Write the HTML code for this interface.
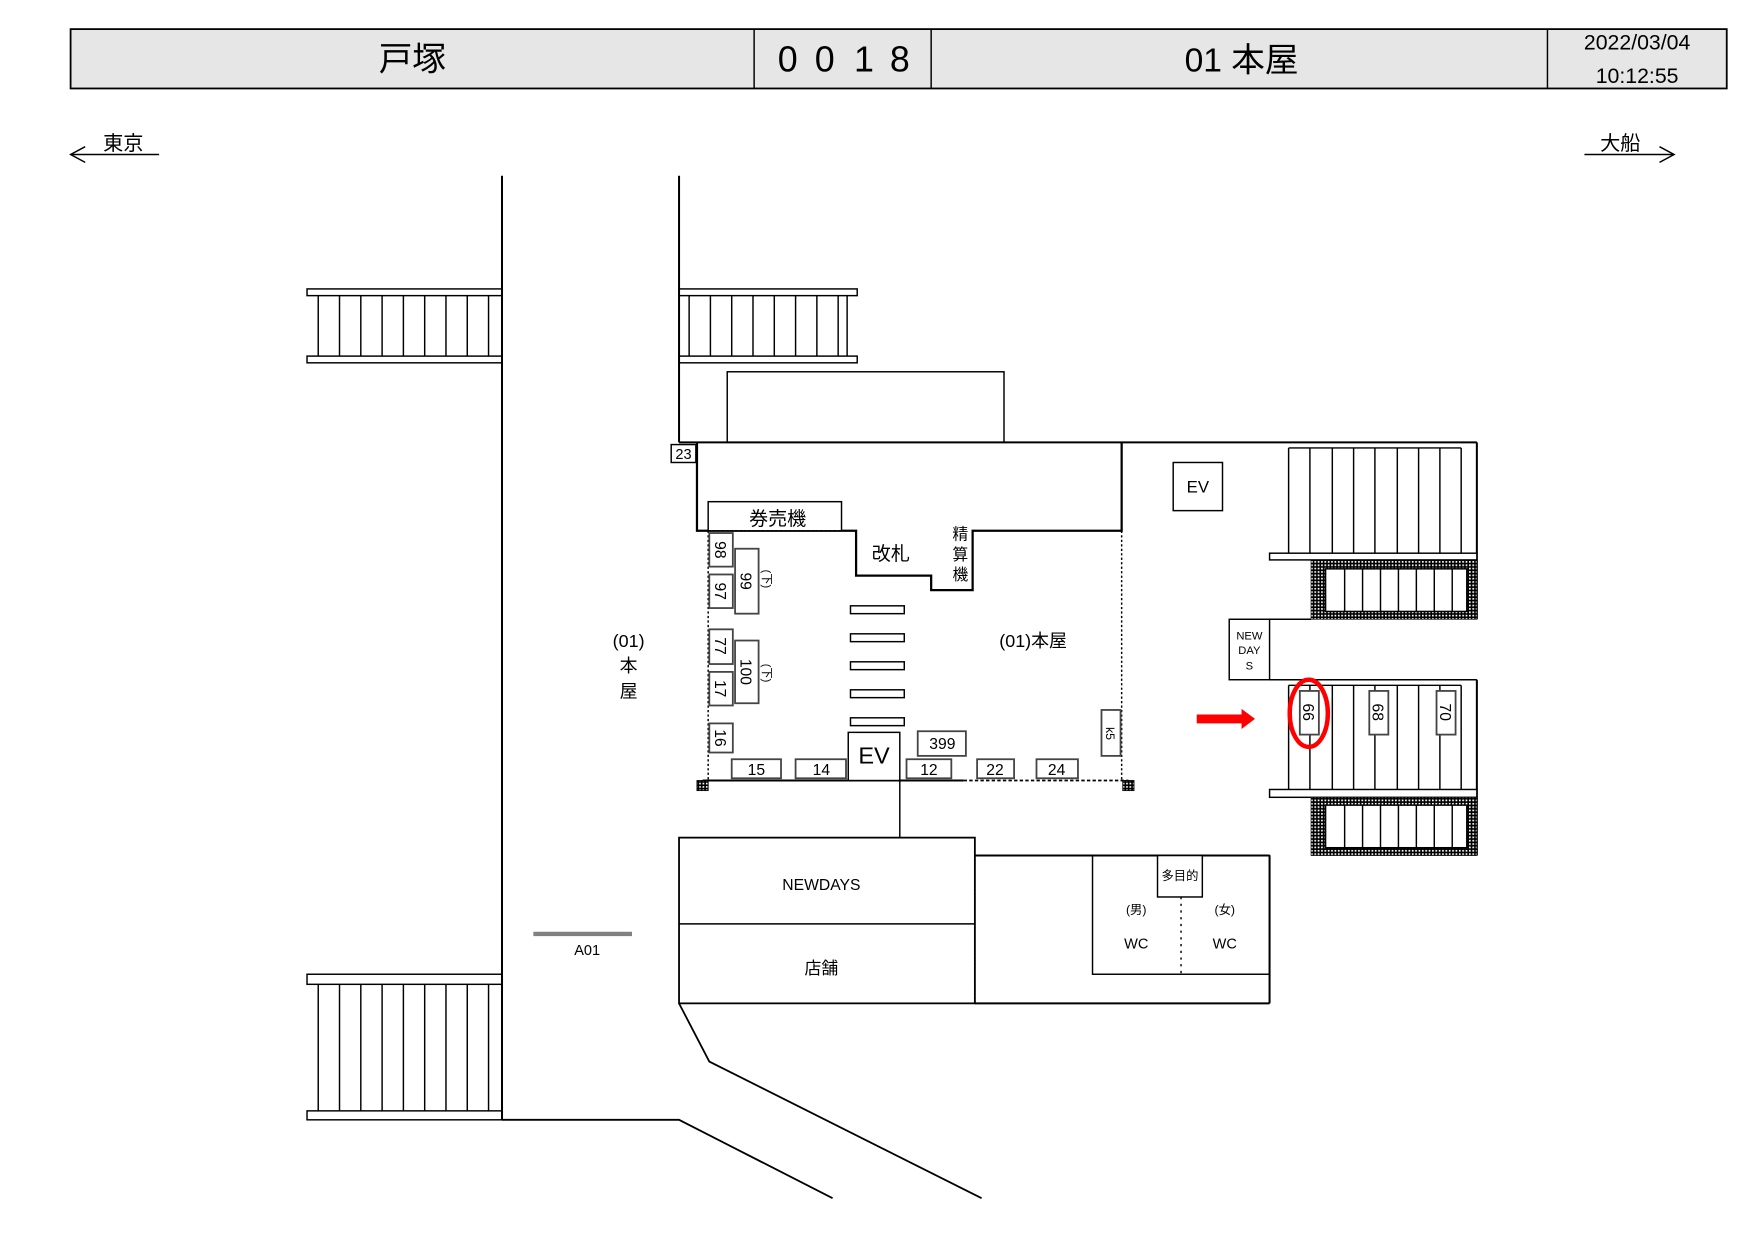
<!DOCTYPE html>
<html><head><meta charset="utf-8"><style>
html,body{margin:0;padding:0;background:#fff;}
svg{display:block;}
text{font-family:"Liberation Sans","Noto Sans CJK JP",sans-serif;fill:#000;}
</style></head><body>
<svg width="1757" height="1243" viewBox="0 0 1568 1110" preserveAspectRatio="none" xmlns="http://www.w3.org/2000/svg">
<defs>
<pattern id="chk" width="3" height="3" patternUnits="userSpaceOnUse"><rect width="3" height="3" fill="#000"/><rect width="1.5" height="1.5" fill="#fff"/></pattern>
</defs>
<g stroke="#000" fill="none" stroke-width="1.3">
<rect x="63" y="26" width="1478" height="53" fill="#e6e6e6" stroke-width="1.6"/>
<line x1="673" y1="26" x2="673" y2="79"/><line x1="831" y1="26" x2="831" y2="79"/><line x1="1381" y1="26" x2="1381" y2="79"/>
<line x1="63" y1="138" x2="142" y2="138"/><polyline points="76,131 63,138 76,145"/>
<line x1="1414" y1="138" x2="1494" y2="138"/><polyline points="1481,131 1494,138 1481,145"/>
<line x1="448" y1="157" x2="448" y2="1000" stroke-width="1.8"/>
<polyline points="448,1000 606,1000 743,1070" stroke-width="1.6"/>
<rect x="274" y="258" width="174" height="6"/><rect x="274" y="318" width="174" height="6"/>
<g><line x1="284" y1="264" x2="284" y2="318"/><line x1="303" y1="264" x2="303" y2="318"/><line x1="322" y1="264" x2="322" y2="318"/><line x1="341" y1="264" x2="341" y2="318"/><line x1="360" y1="264" x2="360" y2="318"/><line x1="379" y1="264" x2="379" y2="318"/><line x1="398" y1="264" x2="398" y2="318"/><line x1="417" y1="264" x2="417" y2="318"/><line x1="436" y1="264" x2="436" y2="318"/></g>
<rect x="274" y="870" width="174" height="9"/><rect x="274" y="992" width="174" height="8"/>
<g><line x1="284" y1="879" x2="284" y2="992"/><line x1="303" y1="879" x2="303" y2="992"/><line x1="322" y1="879" x2="322" y2="992"/><line x1="341" y1="879" x2="341" y2="992"/><line x1="360" y1="879" x2="360" y2="992"/><line x1="379" y1="879" x2="379" y2="992"/><line x1="398" y1="879" x2="398" y2="992"/><line x1="417" y1="879" x2="417" y2="992"/><line x1="436" y1="879" x2="436" y2="992"/></g>
<line x1="606" y1="157" x2="606" y2="395" stroke-width="1.8"/>
<rect x="606" y="258" width="159" height="6"/><rect x="606" y="318" width="159" height="6"/>
<g><line x1="615" y1="264" x2="615" y2="318"/><line x1="634" y1="264" x2="634" y2="318"/><line x1="653" y1="264" x2="653" y2="318"/><line x1="672" y1="264" x2="672" y2="318"/><line x1="691" y1="264" x2="691" y2="318"/><line x1="710" y1="264" x2="710" y2="318"/><line x1="729" y1="264" x2="729" y2="318"/><line x1="748" y1="264" x2="748" y2="318"/><line x1="756" y1="264" x2="756" y2="318"/></g>
<rect x="649" y="332" width="247" height="63"/>
<line x1="606" y1="395" x2="1318" y2="395" stroke-width="1.8"/>
<polyline points="622,395 622,474 764,474 764,514 831,514 831,527 868,527 868,474 1001,474 1001,395" stroke-width="2"/>
<rect x="599" y="397" width="22" height="16" fill="#fff"/>
<rect x="632" y="448" width="119" height="26" fill="#fff"/>
<line x1="632" y1="474" x2="764" y2="474" stroke-dasharray="2,2"/>
<line x1="632" y1="474" x2="632" y2="697" stroke-dasharray="2,2"/>
<line x1="1001" y1="474" x2="1001" y2="697" stroke-dasharray="2,2"/>
<line x1="627" y1="697" x2="860" y2="697" stroke-width="1.8"/>
<line x1="860" y1="697" x2="1007" y2="697" stroke-dasharray="3,2" stroke-width="1.5"/>
<g fill="#fff" stroke="#444" stroke-width="1.6">
<rect x="633" y="476" width="21" height="30"/><rect x="656" y="490" width="21" height="58"/>
<rect x="633" y="513" width="21" height="30"/><rect x="633" y="562" width="21" height="31"/>
<rect x="656" y="572" width="21" height="56"/><rect x="633" y="600" width="21" height="30"/>
<rect x="633" y="646" width="21" height="26"/>
<rect x="819" y="653" width="43" height="22"/>
<rect x="653" y="678" width="44" height="17"/><rect x="710" y="678" width="45" height="17"/>
<rect x="809" y="678" width="40" height="17"/><rect x="872" y="678" width="33" height="17"/>
<rect x="925" y="678" width="37" height="17"/><rect x="983" y="634" width="17" height="41"/>
</g>
<g fill="#fff"><rect x="759" y="541" width="48" height="7"/><rect x="759" y="566" width="48" height="7"/><rect x="759" y="591" width="48" height="7"/><rect x="759" y="616" width="48" height="7"/><rect x="759" y="641" width="48" height="7"/></g>
<rect x="757" y="654" width="46" height="43" fill="#fff"/>
<rect x="622" y="697" width="10" height="9" fill="url(#chk)" stroke-width="0.8"/>
<rect x="1002" y="697" width="10" height="9" fill="url(#chk)" stroke-width="0.8"/>
<line x1="803" y1="697" x2="803" y2="748"/>
<rect x="606" y="748" width="264" height="148" stroke-width="1.6"/>
<line x1="606" y1="825" x2="870" y2="825"/>
<line x1="870" y1="764" x2="1133" y2="764" stroke-width="1.8"/>
<line x1="870" y1="764" x2="870" y2="896" stroke-dasharray="2,1"/>
<line x1="870" y1="896" x2="1133" y2="896" stroke-width="1.8"/>
<line x1="1133" y1="764" x2="1133" y2="896" stroke-width="1.8"/>
<rect x="975" y="764" width="158" height="106"/>
<rect x="1033" y="764" width="40" height="37" fill="#fff"/>
<line x1="1054" y1="801" x2="1054" y2="870" stroke-dasharray="2,4"/>
<polyline points="606,896 633,948 876,1070" stroke-width="1.6"/>
<line x1="476" y1="834" x2="564" y2="834" stroke="#808080" stroke-width="4"/>
<rect x="1047" y="413" width="44" height="43"/>
<line x1="1318" y1="395" x2="1318" y2="553" stroke-width="1.8"/>
<g><line x1="1150" y1="400" x2="1150" y2="494"/><line x1="1169" y1="400" x2="1169" y2="494"/><line x1="1189" y1="400" x2="1189" y2="494"/><line x1="1208" y1="400" x2="1208" y2="494"/><line x1="1227" y1="400" x2="1227" y2="494"/><line x1="1247" y1="400" x2="1247" y2="494"/><line x1="1266" y1="400" x2="1266" y2="494"/><line x1="1285" y1="400" x2="1285" y2="494"/><line x1="1304" y1="400" x2="1304" y2="494"/></g>
<line x1="1150" y1="400" x2="1304" y2="400"/>
<rect x="1133" y="494" width="185" height="6" fill="#fff"/>
<rect x="1170" y="500" width="148" height="53" fill="url(#chk)" stroke-width="0.6"/>
<rect x="1183" y="508" width="126" height="38" fill="#fff"/>
<g><line x1="1200" y1="508" x2="1200" y2="546"/><line x1="1216" y1="508" x2="1216" y2="546"/><line x1="1232" y1="508" x2="1232" y2="546"/><line x1="1248" y1="508" x2="1248" y2="546"/><line x1="1264" y1="508" x2="1264" y2="546"/><line x1="1280" y1="508" x2="1280" y2="546"/><line x1="1296" y1="508" x2="1296" y2="546"/></g>
<line x1="1133" y1="553" x2="1170" y2="553"/>
<rect x="1097" y="553" width="36" height="54"/>
<line x1="1133" y1="607" x2="1318" y2="607"/>
<line x1="1318" y1="607" x2="1318" y2="764" stroke-width="1.8"/>
<line x1="1150" y1="612" x2="1304" y2="612"/>
<g><line x1="1150" y1="612" x2="1150" y2="705"/><line x1="1169" y1="612" x2="1169" y2="705"/><line x1="1189" y1="612" x2="1189" y2="705"/><line x1="1208" y1="612" x2="1208" y2="705"/><line x1="1227" y1="612" x2="1227" y2="705"/><line x1="1247" y1="612" x2="1247" y2="705"/><line x1="1266" y1="612" x2="1266" y2="705"/><line x1="1285" y1="612" x2="1285" y2="705"/><line x1="1304" y1="612" x2="1304" y2="705"/></g>
<rect x="1133" y="705" width="185" height="7" fill="#fff"/>
<rect x="1170" y="712" width="148" height="52" fill="url(#chk)" stroke-width="0.6"/>
<rect x="1183" y="719" width="126" height="38" fill="#fff"/>
<g><line x1="1200" y1="719" x2="1200" y2="757"/><line x1="1216" y1="719" x2="1216" y2="757"/><line x1="1232" y1="719" x2="1232" y2="757"/><line x1="1248" y1="719" x2="1248" y2="757"/><line x1="1264" y1="719" x2="1264" y2="757"/><line x1="1280" y1="719" x2="1280" y2="757"/><line x1="1296" y1="719" x2="1296" y2="757"/></g>
<g fill="#fff" stroke="#444" stroke-width="1.6"><rect x="1160" y="617" width="17" height="39"/><rect x="1222" y="617" width="17" height="39"/><rect x="1282" y="617" width="17" height="39"/></g>
<ellipse cx="1168" cy="637" rx="17" ry="30" stroke="#f00" stroke-width="4"/>
</g>
<polygon points="1068,638 1108,638 1108,633 1120,642 1108,651 1108,646 1068,646" fill="#f00"/>
<text x="368" y="63" font-size="30" text-anchor="middle">戸塚</text>
<g font-size="32" text-anchor="middle"><text x="703" y="64">0</text><text x="736" y="64">0</text><text x="771" y="64">1</text><text x="803" y="64">8</text></g>
<text x="1108" y="64" font-size="30" text-anchor="middle">01 本屋</text>
<text x="1461" y="44" font-size="19" text-anchor="middle">2022/03/04</text>
<text x="1461" y="74" font-size="19" text-anchor="middle">10:12:55</text>
<text x="110" y="134" font-size="18" text-anchor="middle">東京</text>
<text x="1446" y="134" font-size="18" text-anchor="middle">大船</text>
<text x="561" y="578" font-size="16" text-anchor="middle">(01)</text>
<text x="561" y="600" font-size="16" text-anchor="middle">本</text>
<text x="561" y="623" font-size="16" text-anchor="middle">屋</text>
<text x="922" y="578" font-size="16" text-anchor="middle">(01)本屋</text>
<text x="694" y="469" font-size="17" text-anchor="middle">券売機</text>
<text x="795" y="500" font-size="17" text-anchor="middle">改札</text>
<text x="857" y="482" font-size="14" text-anchor="middle">精</text>
<text x="857" y="500" font-size="14" text-anchor="middle">算</text>
<text x="857" y="518" font-size="14" text-anchor="middle">機</text>
<text x="610" y="410" font-size="13" text-anchor="middle">23</text>
<text x="780" y="682" font-size="21" text-anchor="middle">EV</text>
<text x="1069" y="440" font-size="15" text-anchor="middle">EV</text>
<g font-size="14" text-anchor="middle">
<text x="841" y="669">399</text><text x="675" y="692">15</text><text x="733" y="692">14</text><text x="829" y="692">12</text><text x="888" y="692">22</text><text x="943" y="692">24</text>
<text transform="translate(643,491) rotate(90)" y="5">98</text>
<text transform="translate(643,528) rotate(90)" y="5">97</text>
<text transform="translate(643,577) rotate(90)" y="5">77</text>
<text transform="translate(643,615) rotate(90)" y="5">17</text>
<text transform="translate(643,659) rotate(90)" y="5">16</text>
<text transform="translate(666,519) rotate(90)" y="5">99</text>
<text transform="translate(666,600) rotate(90)" y="5">100</text>
<text transform="translate(991,655) rotate(90)" y="4" font-size="11">k5</text>
<text transform="translate(1168,636) rotate(90)" y="5">66</text>
<text transform="translate(1230,636) rotate(90)" y="5">68</text>
<text transform="translate(1290,636) rotate(90)" y="5">70</text>
</g>
<text transform="translate(685,517) rotate(90)" y="4" font-size="10" text-anchor="middle">(下)</text>
<text transform="translate(685,601) rotate(90)" y="4" font-size="10" text-anchor="middle">(下)</text>
<g font-size="10" text-anchor="middle"><text x="1115" y="571">NEW</text><text x="1115" y="584">DAY</text><text x="1115" y="598">S</text></g>
<text x="733" y="795" font-size="14" text-anchor="middle">NEWDAYS</text>
<text x="733" y="870" font-size="15" text-anchor="middle">店舗</text>
<text x="1053" y="786" font-size="11" text-anchor="middle">多目的</text>
<text x="1014" y="816" font-size="11" text-anchor="middle">(男)</text>
<text x="1093" y="816" font-size="11" text-anchor="middle">(女)</text>
<text x="1014" y="847" font-size="13" text-anchor="middle">WC</text>
<text x="1093" y="847" font-size="13" text-anchor="middle">WC</text>
<text x="524" y="853" font-size="13" text-anchor="middle">A01</text>
</svg>
</body></html>
